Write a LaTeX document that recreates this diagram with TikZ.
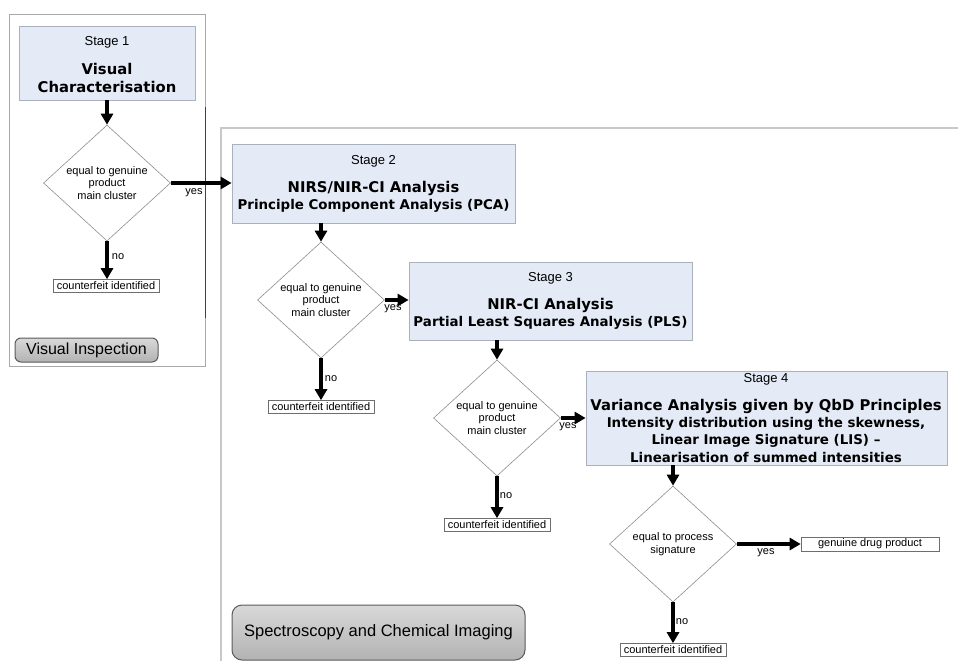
\documentclass[tikz,border=0pt]{standalone}
\usepackage{fontspec}
\setmainfont{Liberation Sans}
\newfontfamily\dvb{DejaVu Sans}
\usetikzlibrary{shapes.geometric,arrows.meta}
\definecolor{boxfill}{HTML}{E4EBF6}
\definecolor{boxline}{HTML}{A9B1BD}
\definecolor{frameA}{HTML}{A8A8A8}
\definecolor{frameB}{HTML}{C8C8C8}
\definecolor{frameDark}{HTML}{404040}
\definecolor{dialine}{HTML}{8E8E8E}
\definecolor{outline}{HTML}{6E6E6E}
\definecolor{btnline}{HTML}{5A5A5A}
\begin{document}
\begin{tikzpicture}[x=1pt,y=-1pt,
  stagebox/.style={draw=boxline, fill=boxfill, line width=0.8pt, inner sep=0pt},
  stagehead/.style={font=\fontsize{13}{15}\selectfont, inner sep=0pt},
  boldA/.style={font=\dvb\bfseries\fontsize{14.8}{17}\selectfont, inner sep=0pt},
  boldB/.style={font=\dvb\bfseries\fontsize{13.4}{16}\selectfont, inner sep=0pt},
  decision/.style={diamond, draw=dialine, fill=white, line width=0.6pt,
    minimum width=127pt, minimum height=116pt, inner sep=0pt, align=center,
    font=\fontsize{11}{12.8}\selectfont},
  outcome/.style={draw=outline, fill=white, line width=0.6pt, minimum width=106pt,
    minimum height=13pt, inner sep=0pt, font=\fontsize{11}{13}\selectfont},
  flow/.style={line width=3.2pt, -{Triangle[length=11pt,width=12pt]}},
  lbl/.style={font=\fontsize{11}{13}\selectfont, inner sep=0pt},
  button/.style={draw=btnline, line width=1pt, top color=gray!30, middle color=gray!4,
    bottom color=gray!60, inner sep=0pt}
]
\useasboundingbox (0,0) rectangle (958,661);

% frames
\draw[frameA, line width=0.8pt] (9,14) rectangle (205,366);
\draw[frameDark, line width=0.8pt] (205,107) -- (205,318);
\draw[frameB, line width=1.6pt] (221,661) -- (221,128) -- (958,128);

% stage boxes
\node[stagebox, minimum width=176pt, minimum height=74pt] (s1) at (107,63) {};
\node[stagebox, minimum width=283pt, minimum height=79pt] (s2) at (373.5,183.5) {};
\node[stagebox, minimum width=283pt, minimum height=78pt] (s3) at (550.5,301) {};
\node[stagebox, minimum width=361pt, minimum height=94pt] (s4) at (766.5,418) {};

% stage texts
\node[stagehead] (s1h) at (107,42) {Stage 1};
\node[boldA] (s1a) at (107,69) {Visual};
\node[boldA] (s1b) at (107,87) {Characterisation};

\node[stagehead] (s2h) at (373.5,161) {Stage 2};
\node[boldA] (s2a) at (373.5,188) {NIRS/NIR-CI Analysis};
\node[boldB] (s2b) at (373.5,205.5) {Principle Component Analysis (PCA)};

\node[stagehead] (s3h) at (550.5,278) {Stage 3};
\node[boldA] (s3a) at (550.5,305) {NIR-CI Analysis};
\node[boldB] (s3b) at (550.5,323) {Partial Least Squares Analysis (PLS)};

\node[stagehead] (s4h) at (766,379) {Stage 4};
\node[boldA] (s4a) at (766,406) {Variance Analysis given by QbD Principles};
\node[boldB] (s4b) at (766,424) {Intensity distribution using the skewness,};
\node[boldB] (s4c) at (766,440.5) {Linear Image Signature (LIS) –};
\node[boldB] (s4d) at (766,457) {Linearisation of summed intensities};

% decisions
\node[decision] (d1) at (107,183) {equal to genuine\\product\\main cluster};
\node[decision] (d2) at (321,300) {equal to genuine\\product\\main cluster};
\node[decision] (d3) at (497,418) {equal to genuine\\product\\main cluster};
\node[decision] (d4) at (673,544) {equal to process\\signature};

% outcomes
\node[outcome] (c1) at (106,286) {counterfeit identified};
\node[outcome] (c2) at (321,407) {counterfeit identified};
\node[outcome] (c3) at (497,525) {counterfeit identified};
\node[outcome] (c4) at (673,650) {counterfeit identified};
\node[outcome, minimum width=138pt, minimum height=14pt] (g4) at (870,544) {genuine drug product};

% buttons
\node[button, rounded corners=6pt, minimum width=143pt, minimum height=24pt,
  font=\fontsize{16}{18}\selectfont] (vi) at (86.5,350) {Visual Inspection};
\node[button, rounded corners=10pt, minimum width=293pt, minimum height=55pt,
  font=\fontsize{16.5}{19}\selectfont] (sci) at (378.5,632.5) {Spectroscopy and Chemical Imaging};

% connectors
\draw[flow] (s1.south -| d1.north) -- (d1.north);
\draw[flow] (d1.south) -- (c1.north -| d1.south);
\draw[flow] (d1.east) -- (s2.west |- d1.east);
\draw[flow] (s2.south -| d2.north) -- (d2.north);
\draw[flow] (d2.south) -- (c2.north);
\draw[flow] (d2.east) -- (s3.west |- d2.east);
\draw[flow] (s3.south -| d3.north) -- (d3.north);
\draw[flow] (d3.south) -- (c3.north);
\draw[flow] (d3.east) -- (s4.west |- d3.east);
\draw[flow] (s4.south -| d4.north) -- (d4.north);
\draw[flow] (d4.south) -- (c4.north);
\draw[flow] (d4.east) -- (g4.west);

% labels
\node[lbl] (y1) at (194,193) {yes};
\node[lbl] (y2) at (393,309) {yes};
\node[lbl] (y3) at (568,427) {yes};
\node[lbl] (y4) at (766,553) {yes};
\node[lbl] (n1) at (118,257) {no};
\node[lbl] (n2) at (331,379) {no};
\node[lbl] (n3) at (506,496) {no};
\node[lbl] (n4) at (682,622) {no};
\end{tikzpicture}
\end{document}
